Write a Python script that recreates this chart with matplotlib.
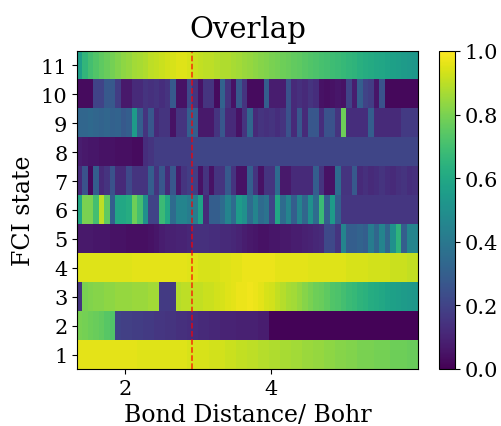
import numpy as np
import matplotlib
matplotlib.use("Agg")
import matplotlib.pyplot as plt

plt.rcParams['font.family'] = 'serif'

# bond distance range covered by the columns (Bohr)
x_start, x_end = 1.35, 6.0
cut_distance = 2.92
states = list(range(1, 12))

# overlap per FCI state, one value per bond distance column (62 columns)
state_1 = [0.96, 0.96, 0.96, 0.96, 0.96, 0.96, 0.96, 0.96, 0.96, 0.96,
           0.96, 0.95, 0.95, 0.95, 0.95, 0.95, 0.95, 0.95, 0.95, 0.95,
           0.94, 0.94, 0.94, 0.94, 0.93, 0.93, 0.93, 0.92, 0.92, 0.91,
           0.91, 0.90, 0.90, 0.89, 0.89, 0.88, 0.88, 0.87, 0.87, 0.86,
           0.86, 0.85, 0.85, 0.84, 0.84, 0.83, 0.83, 0.82, 0.82, 0.81,
           0.81, 0.80, 0.80, 0.80, 0.79, 0.79, 0.79, 0.78, 0.78, 0.78,
           0.77, 0.77]
state_2 = [0.80, 0.79, 0.78, 0.77, 0.76, 0.74, 0.73, 0.20, 0.19, 0.19,
           0.18, 0.18, 0.17, 0.17, 0.16, 0.16, 0.15, 0.15, 0.14, 0.14,
           0.13, 0.13, 0.12, 0.12, 0.11, 0.11, 0.10, 0.10, 0.10, 0.09,
           0.09, 0.09, 0.09, 0.08, 0.08, 0.01, 0.01, 0.01, 0.01, 0.01,
           0.01, 0.01, 0.01, 0.01, 0.01, 0.01, 0.01, 0.01, 0.01, 0.01,
           0.01, 0.01, 0.01, 0.01, 0.01, 0.01, 0.01, 0.01, 0.01, 0.01,
           0.01, 0.01]
state_3 = [0.15, 0.80, 0.81, 0.82, 0.82, 0.83, 0.83, 0.84, 0.84, 0.84,
           0.85, 0.85, 0.85, 0.86, 0.86, 0.17, 0.17, 0.17, 0.89, 0.90,
           0.90, 0.91, 0.91, 0.92, 0.92, 0.93, 0.94, 0.95, 0.96, 0.97,
           0.97, 0.98, 0.97, 0.96, 0.94, 0.93, 0.91, 0.89, 0.87, 0.86,
           0.84, 0.82, 0.80, 0.78, 0.77, 0.75, 0.73, 0.72, 0.70, 0.68,
           0.67, 0.65, 0.64, 0.62, 0.61, 0.60, 0.58, 0.57, 0.56, 0.55,
           0.54, 0.53]
state_4 = [0.95, 0.95, 0.95, 0.95, 0.95, 0.95, 0.95, 0.95, 0.95, 0.95,
           0.96, 0.96, 0.96, 0.96, 0.96, 0.96, 0.96, 0.96, 0.96, 0.96,
           0.95, 0.95, 0.94, 0.94, 0.94, 0.94, 0.95, 0.95, 0.96, 0.96,
           0.97, 0.97, 0.97, 0.97, 0.97, 0.97, 0.96, 0.96, 0.96, 0.96,
           0.96, 0.96, 0.95, 0.95, 0.95, 0.95, 0.95, 0.95, 0.95, 0.94,
           0.94, 0.94, 0.94, 0.93, 0.93, 0.93, 0.93, 0.92, 0.92, 0.92,
           0.91, 0.91]
state_5 = [0.07, 0.07, 0.07, 0.06, 0.06, 0.06, 0.05, 0.05, 0.05, 0.04,
           0.04, 0.04, 0.04, 0.05, 0.06, 0.08, 0.09, 0.09, 0.10, 0.10,
           0.11, 0.14, 0.14, 0.14, 0.13, 0.13, 0.12, 0.12, 0.11, 0.10,
           0.08, 0.07, 0.06, 0.05, 0.05, 0.06, 0.06, 0.07, 0.07, 0.08,
           0.08, 0.09, 0.10, 0.11, 0.12, 0.22, 0.22, 0.15, 0.45, 0.30,
           0.30, 0.32, 0.30, 0.42, 0.33, 0.45, 0.33, 0.50, 0.65, 0.30,
           0.45, 0.45]
state_6 = [0.60, 0.80, 0.80, 0.70, 0.90, 0.75, 0.30, 0.60, 0.60, 0.62,
           0.78, 0.70, 0.50, 0.20, 0.20, 0.68, 0.60, 0.35, 0.45, 0.45,
           0.42, 0.42, 0.58, 0.12, 0.30, 0.30, 0.35, 0.45, 0.35, 0.55,
           0.50, 0.35, 0.45, 0.35, 0.38, 0.20, 0.60, 0.35, 0.45, 0.30,
           0.45, 0.33, 0.50, 0.35, 0.68, 0.30, 0.55, 0.30, 0.16, 0.16,
           0.16, 0.16, 0.16, 0.16, 0.16, 0.16, 0.16, 0.16, 0.16, 0.16,
           0.16, 0.16]
state_7 = [0.12, 0.25, 0.03, 0.30, 0.12, 0.15, 0.25, 0.12, 0.12, 0.22,
           0.15, 0.15, 0.15, 0.30, 0.15, 0.27, 0.12, 0.27, 0.07, 0.15,
           0.18, 0.18, 0.05, 0.15, 0.05, 0.15, 0.15, 0.28, 0.15, 0.05,
           0.05, 0.30, 0.15, 0.05, 0.15, 0.15, 0.35, 0.07, 0.07, 0.12,
           0.12, 0.12, 0.12, 0.30, 0.15, 0.05, 0.05, 0.35, 0.15, 0.15,
           0.28, 0.12, 0.14, 0.12, 0.13, 0.15, 0.13, 0.12, 0.14, 0.15,
           0.13, 0.14]
state_8 = [0.08, 0.07, 0.06, 0.06, 0.05, 0.05, 0.05, 0.04, 0.04, 0.04,
           0.03, 0.03, 0.13, 0.15, 0.18, 0.18, 0.18, 0.18, 0.18, 0.18,
           0.18, 0.21, 0.21, 0.21, 0.21, 0.21, 0.21, 0.21, 0.21, 0.21,
           0.21, 0.21, 0.21, 0.21, 0.21, 0.21, 0.21, 0.21, 0.21, 0.21,
           0.21, 0.21, 0.21, 0.21, 0.21, 0.21, 0.21, 0.21, 0.21, 0.21,
           0.21, 0.21, 0.21, 0.21, 0.21, 0.21, 0.21, 0.21, 0.21, 0.21,
           0.21, 0.21]
state_9 = [0.33, 0.33, 0.34, 0.33, 0.32, 0.33, 0.31, 0.32, 0.28, 0.30,
           0.55, 0.30, 0.15, 0.27, 0.12, 0.15, 0.15, 0.05, 0.15, 0.15,
           0.30, 0.30, 0.07, 0.07, 0.07, 0.15, 0.27, 0.12, 0.12, 0.05,
           0.15, 0.33, 0.12, 0.15, 0.14, 0.15, 0.13, 0.15, 0.25, 0.12,
           0.27, 0.12, 0.27, 0.27, 0.13, 0.25, 0.25, 0.15, 0.78, 0.13,
           0.13, 0.13, 0.13, 0.30, 0.12, 0.12, 0.12, 0.12, 0.12, 0.17,
           0.17, 0.17]
state_10 = [0.03, 0.03, 0.03, 0.20, 0.20, 0.28, 0.28, 0.18, 0.07, 0.07,
            0.12, 0.12, 0.15, 0.14, 0.15, 0.13, 0.15, 0.28, 0.05, 0.05,
            0.22, 0.15, 0.05, 0.15, 0.15, 0.03, 0.32, 0.15, 0.05, 0.28,
            0.15, 0.03, 0.03, 0.03, 0.30, 0.08, 0.08, 0.08, 0.25, 0.12,
            0.14, 0.12, 0.15, 0.13, 0.05, 0.04, 0.05, 0.06, 0.05, 0.20,
            0.08, 0.30, 0.20, 0.18, 0.06, 0.25, 0.02, 0.02, 0.02, 0.02,
            0.02, 0.02]
state_11 = [0.56, 0.66, 0.70, 0.73, 0.75, 0.77, 0.79, 0.81, 0.83, 0.84,
            0.86, 0.87, 0.88, 0.90, 0.91, 0.92, 0.93, 0.94, 0.95, 0.95,
            0.94, 0.92, 0.91, 0.90, 0.90, 0.89, 0.88, 0.88, 0.87, 0.86,
            0.85, 0.84, 0.83, 0.82, 0.81, 0.80, 0.79, 0.78, 0.77, 0.76,
            0.75, 0.74, 0.73, 0.72, 0.71, 0.70, 0.69, 0.68, 0.67, 0.66,
            0.65, 0.63, 0.62, 0.61, 0.60, 0.59, 0.58, 0.57, 0.56, 0.55,
            0.54, 0.53]

overlap = np.array([state_1, state_2, state_3, state_4, state_5, state_6,
                    state_7, state_8, state_9, state_10, state_11])

fig = plt.figure(figsize=(5.01, 4.27), dpi=100)
ax = fig.add_axes([0.154, 0.1335, 0.68, 0.745])
cax = fig.add_axes([0.876, 0.1335, 0.032, 0.745])

im = ax.imshow(overlap, cmap='viridis', vmin=0, vmax=1, aspect='auto',
               origin='lower', interpolation='nearest',
               extent=(x_start, x_end, states[0] - 0.5, states[-1] + 0.5))
ax.axvline(cut_distance, color='r', linestyle='--', linewidth=1.1, alpha=0.8)

ax.set_yticks(states)
ax.set_xticks([2, 4])
ax.tick_params(labelsize=15)
ax.set_title('Overlap', fontsize=21, pad=10)
ax.set_xlabel('Bond Distance/ Bohr', fontsize=17)
ax.set_ylabel('FCI state', fontsize=17)

cb = fig.colorbar(im, cax=cax)
cb.set_ticks([0.0, 0.2, 0.4, 0.6, 0.8, 1.0])
cb.ax.tick_params(labelsize=15)

fig.savefig('out.png', dpi=100)
